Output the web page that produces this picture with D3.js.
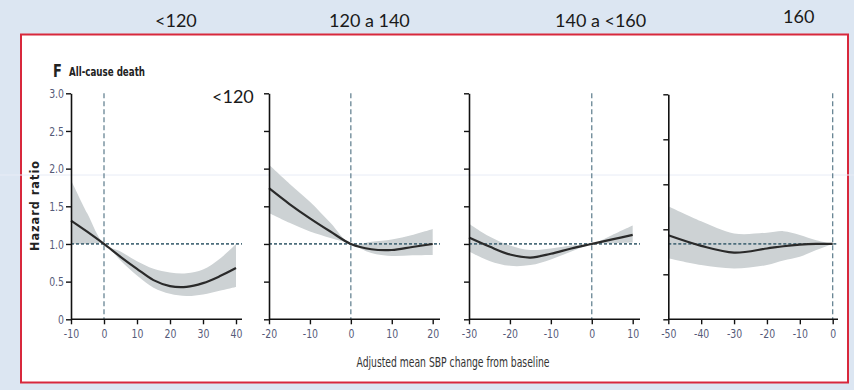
<!DOCTYPE html>
<html>
<head>
<meta charset="utf-8">
<script src="https://cdn.jsdelivr.net/npm/d3@7"></script>
<style>
  html, body { margin: 0; padding: 0; background: #dce6f2; }
  svg { display: block; }
  .tick text { font-family: 'Liberation Sans Narrow', 'DejaVu Sans Condensed', 'Roboto Condensed', sans-serif; }
</style>
</head>
<body>
<div id="chart"></div>
<script>
// group labels above the picture
const groupLabels = ['<120', '120 a 140', '140 a <160', '160'];

// hazard ratio ticks
const hrTicks = [0, 0.5, 1, 1.5, 2, 2.5, 3];
const hrTickLabels = ['0', '0.5', '1.0', '1.5', '2.0', '2.5', '3.0'];
const hrTicksLast = [0, 0.5, 1, 1.5, 2, 2.5];

// panel 1: baseline SBP <120
const p1X = [-10, -5, 0, 5, 10, 15, 20, 25, 30, 35, 40];
const p1HR = [1.31, 1.16, 1.0, 0.83, 0.67, 0.52, 0.44, 0.43, 0.48, 0.57, 0.68];
const p1Hi = [1.85, 1.4, 1.0, 0.9, 0.77, 0.67, 0.62, 0.61, 0.66, 0.8, 1.0];
const p1Lo = [1.0, 1.0, 1.0, 0.78, 0.58, 0.42, 0.34, 0.31, 0.33, 0.38, 0.43];
const p1Ticks = [-10, 0, 10, 20, 30, 40];

// panel 2: 120 a 140
const p2X = [-20, -15, -10, -5, 0, 5, 10, 15, 20];
const p2HR = [1.74, 1.53, 1.34, 1.165, 1.0, 0.93, 0.92, 0.96, 1.0];
const p2Hi = [2.05, 1.8, 1.56, 1.28, 1.0, 1.03, 1.06, 1.12, 1.2];
const p2Lo = [1.41, 1.28, 1.165, 1.08, 1.0, 0.88, 0.84, 0.85, 0.855];
const p2Ticks = [-20, -10, 0, 10, 20];

// panel 3: 140 a <160
const p3X = [-30, -25, -20, -15, -10, -5, 0, 5, 10];
const p3HR = [1.085, 0.965, 0.86, 0.82, 0.87, 0.94, 1.0, 1.06, 1.12];
const p3Hi = [1.27, 1.1, 0.98, 0.92, 0.94, 0.98, 1.0, 1.12, 1.245];
const p3Lo = [0.9, 0.775, 0.71, 0.72, 0.795, 0.9, 1.0, 1.01, 1.02];
const p3Ticks = [-30, -20, -10, 0, 10];

// panel 4: 160
const p4X = [-50, -40, -30, -20, -15, -10, -5, 0];
const p4HR = [1.115, 0.975, 0.885, 0.94, 0.97, 0.99, 1.0, 1.0];
const p4Hi = [1.5, 1.3, 1.14, 1.15, 1.17, 1.12, 1.05, 1.0];
const p4Lo = [0.81, 0.72, 0.675, 0.72, 0.78, 0.83, 0.92, 1.0];
const p4Ticks = [-50, -40, -30, -20, -10, 0];

const W = 854, H = 390;
const numFont = "'Liberation Sans Narrow', 'DejaVu Sans Condensed', sans-serif";
const slideFont = "Lato, 'Open Sans', sans-serif";

const svg = d3.select('#chart').append('svg')
  .attr('width', W)
  .attr('height', H);

// slide background + picture frame
svg.append('rect').attr('x', 0).attr('y', 0).attr('width', W).attr('height', H).attr('fill', '#dce6f2');
svg.append('rect')
  .attr('x', 21).attr('y', 34.5).attr('width', 827).attr('height', 348)
  .attr('fill', '#fff').attr('stroke', '#d8283c').attr('stroke-width', 2);
svg.append('line')
  .attr('x1', 0).attr('x2', W).attr('y1', 175).attr('y2', 175)
  .attr('stroke', '#e8ecf6').attr('stroke-width', 1);

// labels on top
const labelPos = [[155, 27], [329, 27], [555, 27], [783, 22.5]];
svg.selectAll('text.group')
  .data(groupLabels)
  .enter().append('text')
  .attr('class', 'group')
  .attr('x', (d, i) => labelPos[i][0])
  .attr('y', (d, i) => labelPos[i][1])
  .attr('font-family', slideFont)
  .attr('font-size', 18)
  .attr('fill', '#1a1a1a')
  .text(d => d);

svg.append('text')
  .attr('x', 212).attr('y', 102.5)
  .attr('font-family', slideFont)
  .attr('font-size', 18)
  .attr('fill', '#1a1a1a')
  .text(groupLabels[0]);

// panel title
svg.append('text')
  .attr('x', 53).attr('y', 77)
  .attr('font-family', numFont)
  .attr('font-size', 18)
  .attr('font-weight', 'bold')
  .attr('fill', '#222')
  .attr('transform', 'translate(53,0) scale(0.8,1) translate(-53,0)')
  .text('F');
svg.append('text')
  .attr('x', 69).attr('y', 76)
  .attr('font-family', numFont)
  .attr('font-size', 12.5)
  .attr('font-weight', 'bold')
  .attr('fill', '#222')
  .attr('textLength', 76)
  .attr('lengthAdjust', 'spacingAndGlyphs')
  .text('All-cause death');

// y scale shared by all panels
const yTop = 93.3, yBottom = 319.3;
const yScale = d3.scaleLinear().domain([0, 3]).range([yBottom, yTop]);
const yScaleLast = d3.scaleLinear().domain([0, 2.5]).range([yBottom, 94.3]);

const panels = [
  { x: p1X, hr: p1HR, hi: p1Hi, lo: p1Lo, ticks: p1Ticks, range: [71, 236], end: 242 },
  { x: p2X, hr: p2HR, hi: p2Hi, lo: p2Lo, ticks: p2Ticks, range: [269, 432.7], end: 440 },
  { x: p3X, hr: p3HR, hi: p3Hi, lo: p3Lo, ticks: p3Ticks, range: [469, 632.7], end: 640 },
  { x: p4X, hr: p4HR, hi: p4Hi, lo: p4Lo, ticks: p4Ticks, range: [668.3, 832.7], end: 838 }
];

panels.forEach(function(p, i) {
  const xScale = d3.scaleLinear()
    .domain([p.ticks[0], p.ticks[p.ticks.length - 1]])
    .range(p.range);
  const rows = p.x.map((v, k) => ({ x: v, hr: p.hr[k], hi: p.hi[k], lo: p.lo[k] }));
  const g = svg.append('g');

  // confidence band
  const area = d3.area()
    .x(d => xScale(d.x))
    .y0(d => yScale(d.lo))
    .y1(d => yScale(d.hi))
    .curve(d3.curveCatmullRom);
  g.append('path')
    .datum(rows)
    .attr('fill', '#cdd2d4')
    .attr('d', area);

  // reference lines
  g.append('line')
    .attr('x1', xScale(0)).attr('x2', xScale(0))
    .attr('y1', yTop).attr('y2', yBottom)
    .attr('stroke', '#5b7b8b')
    .attr('stroke-width', 1.2)
    .attr('stroke-dasharray', '5,3');
  g.append('line')
    .attr('x1', p.range[0]).attr('x2', p.end)
    .attr('y1', yScale(1)).attr('y2', yScale(1))
    .attr('stroke', '#4d6e7c')
    .attr('stroke-width', 1.8)
    .attr('stroke-dasharray', '3,2');

  // estimate line
  const line = d3.line()
    .x(d => xScale(d.x))
    .y(d => yScale(d.hr))
    .curve(d3.curveCatmullRom);
  g.append('path')
    .datum(rows)
    .attr('fill', 'none')
    .attr('stroke', '#2a2a2a')
    .attr('stroke-width', 2.2)
    .attr('d', line);

  // x axis
  const xAxis = d3.axisBottom(xScale)
    .tickValues(p.ticks)
    .tickSize(5)
    .tickPadding(4)
    .tickFormat(d => d < 0 ? '-' + Math.abs(d) : d);
  const gx = g.append('g')
    .attr('transform', 'translate(0,' + yBottom + ')')
    .call(xAxis);
  gx.select('.domain').remove();
  gx.append('line')
    .attr('x1', p.range[0]).attr('x2', p.end)
    .attr('stroke', '#111').attr('stroke-width', 1.6);
  gx.selectAll('.tick line').attr('stroke', '#111').attr('stroke-width', 1.4);
  gx.selectAll('.tick text')
    .attr('fill', '#555a78')
    .attr('font-size', 13)
    .attr('transform', 'scale(0.8,1)');

  // y axis
  const ys = i === 3 ? yScaleLast : yScale;
  const yAxis = d3.axisLeft(ys)
    .tickValues(i === 3 ? hrTicksLast : hrTicks)
    .tickSize(5)
    .tickSizeOuter(0)
    .tickPadding(2)
    .tickFormat((d, k) => i === 0 ? hrTickLabels[k] : '');
  const gy = g.append('g')
    .attr('transform', 'translate(' + p.range[0] + ',0)')
    .call(yAxis);
  gy.select('.domain').attr('stroke', '#111').attr('stroke-width', 1.6);
  gy.selectAll('.tick line').attr('stroke', '#111').attr('stroke-width', 1.4);
  gy.selectAll('.tick text')
    .attr('fill', '#555a78')
    .attr('font-size', 13)
    .attr('transform', 'translate(-7,0) scale(0.8,1) translate(7,0)');
});

// axis titles
svg.append('text')
  .attr('x', 453).attr('y', 367)
  .attr('text-anchor', 'middle')
  .attr('font-family', numFont)
  .attr('font-size', 13.5)
  .attr('fill', '#333')
  .attr('textLength', 193)
  .attr('lengthAdjust', 'spacingAndGlyphs')
  .text('Adjusted mean SBP change from baseline');

svg.append('text')
  .attr('transform', 'translate(39,206) rotate(-90)')
  .attr('text-anchor', 'middle')
  .attr('font-family', numFont)
  .attr('font-size', 12.5)
  .attr('font-weight', 'bold')
  .attr('fill', '#222')
  .attr('textLength', 90)
  .attr('lengthAdjust', 'spacing')
  .text('Hazard ratio');
</script>
</body>
</html>
